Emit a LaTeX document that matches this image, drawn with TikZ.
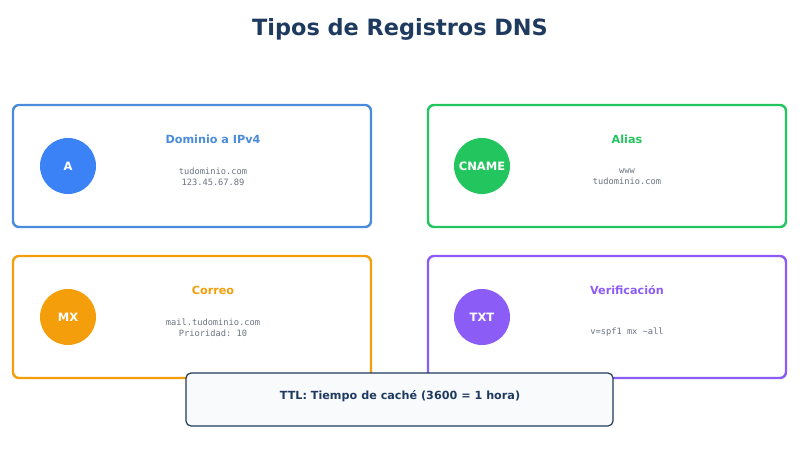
\documentclass[tikz,border=0pt]{standalone}
\usepackage{fontspec}
\setmainfont{DejaVu Sans}
\setmonofont{DejaVu Sans Mono}
\definecolor{navy}{HTML}{1E3A5F}
\definecolor{cblue}{HTML}{3B82F6}
\definecolor{bblue}{HTML}{4A8BDC}
\definecolor{cgreen}{HTML}{22C55E}
\definecolor{corange}{HTML}{F59E0B}
\definecolor{cpurple}{HTML}{8B5CF6}
\definecolor{mono}{HTML}{6B7280}
\definecolor{ttlfill}{HTML}{F8FAFC}
\begin{document}
\begin{tikzpicture}[x=1pt,y=-1pt,
  card/.style={draw=#1,line width=2.4pt,rounded corners=6pt,fill=white},
  badge/.style={circle,fill=#1,minimum size=56pt,inner sep=0pt,text=white,font=\bfseries\fontsize{11.5}{13}\selectfont},
  heading/.style={text=#1,font=\bfseries\fontsize{11.2}{13}\selectfont},
  detail/.style={text=mono,font=\ttfamily\fontsize{8.7}{10.8}\selectfont,align=center}]
\useasboundingbox (0,0) rectangle (800,450);
\node[text=navy,font=\bfseries\fontsize{22.4}{26}\selectfont] (title) at (400,29.5) {Tipos de Registros DNS};
% cards
\draw[card=bblue] (13,105) rectangle (371,227);
\draw[card=cgreen] (428,105) rectangle (786,227);
\draw[card=corange] (13,256) rectangle (371,378);
\draw[card=cpurple] (428,256) rectangle (786,378);
% badges
\node[badge=cblue] (a) at (68,166) {A};
\node[badge=cgreen] (cname) at (482,166) {CNAME};
\node[badge=corange] (mx) at (68,317) {MX};
\node[badge=cpurple] (txt) at (482,317) {TXT};
% headings
\node[heading=bblue] (h1) at (213,139) {Dominio a IPv4};
\node[heading=cgreen] (h2) at (627,139) {Alias};
\node[heading=corange] (h3) at (213,290) {Correo};
\node[heading=cpurple] (h4) at (627,290) {Verificación};
% details
\node[detail] (d1) at (213,176.5) {tudominio.com\\123.45.67.89};
\node[detail] (d2) at (627,176.5) {www\\tudominio.com};
\node[detail] (d3) at (213,327.5) {mail.tudominio.com\\Prioridad: 10};
\node[detail] (d4) at (627,332) {v=spf1 mx \textasciitilde all};
% TTL
\draw[draw=navy,fill=ttlfill,line width=1.2pt,rounded corners=5pt] (186,373) rectangle (613,426);
\node[text=navy,font=\bfseries\fontsize{11.2}{13}\selectfont] (ttl) at (400,396) {TTL: Tiempo de caché (3600 = 1 hora)};
\end{tikzpicture}
\end{document}
